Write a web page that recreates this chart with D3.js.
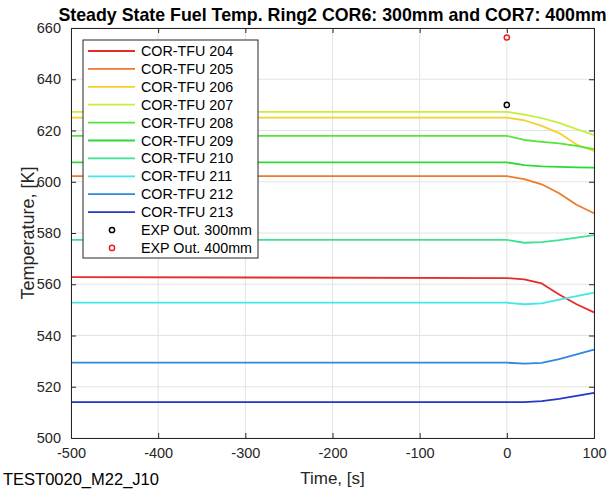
<!DOCTYPE html>
<html>
<head>
<meta charset="utf-8">
<script src="https://cdn.jsdelivr.net/npm/d3@7"></script>
<style>
  body { margin: 0; background: #fff; }
  text { font-family: "Liberation Sans", Arial, Helvetica, sans-serif; }
</style>
</head>
<body>
<main></main>
<script>
// time points (s)
const time = [-500, 0, 20, 40, 60, 80, 100];

// fuel temperatures (K) per channel
const tfu204 = [562.8, 562.4, 561.9, 560.3, 556.0, 552.2, 549.0];
const tfu205 = [602.2, 602.2, 601.0, 599.0, 595.5, 591.0, 587.7];
const tfu206 = [625.0, 625.0, 624.0, 621.8, 619.0, 614.5, 612.0];
const tfu207 = [627.3, 627.3, 626.2, 624.8, 623.0, 620.5, 618.2];
const tfu208 = [617.9, 617.9, 616.3, 615.6, 615.0, 614.0, 612.7];
const tfu209 = [607.6, 607.6, 606.5, 606.0, 605.8, 605.6, 605.5];
const tfu210 = [577.3, 577.3, 576.2, 576.4, 577.2, 578.2, 579.2];
const tfu211 = [552.8, 552.8, 552.2, 552.5, 554.0, 555.4, 556.7];
const tfu212 = [529.4, 529.4, 529.0, 529.3, 530.8, 532.6, 534.5];
const tfu213 = [514.0, 514.0, 514.0, 514.4, 515.3, 516.4, 517.6];

const seriesNames = ["COR-TFU 204", "COR-TFU 205", "COR-TFU 206", "COR-TFU 207", "COR-TFU 208",
                     "COR-TFU 209", "COR-TFU 210", "COR-TFU 211", "COR-TFU 212", "COR-TFU 213"];
const seriesValues = [tfu204, tfu205, tfu206, tfu207, tfu208, tfu209, tfu210, tfu211, tfu212, tfu213];
const seriesColors = ["#e62b2b", "#ee7a2a", "#f5d02e", "#c6f03e", "#55e43c",
                      "#2ed83a", "#3ee290", "#42e8e8", "#2e88e0", "#2636c6"];

// experimental points
const expNames = ["EXP Out. 300mm", "EXP Out. 400mm"];
const expTime = [0, 0];
const expTemp = [630.0, 656.3];
const expColors = ["#000000", "#e62020"];

const xTicks = [-500, -400, -300, -200, -100, 0, 100];
const yTicks = [500, 520, 540, 560, 580, 600, 620, 640, 660];

const W = 609, H = 490;
const margin = {left: 71, right: 15, top: 28, bottom: 52};
const axisColor = "#262626";

const svg = d3.select("main").append("svg")
    .attr("width", W).attr("height", H)
    .attr("viewBox", [0, 0, W, H]);

const x = d3.scaleLinear().domain([-500, 100]).range([margin.left, W - margin.right]);
const y = d3.scaleLinear().domain([500, 660]).range([H - margin.bottom, margin.top]);

// grid
const grid = svg.append("g").attr("stroke", "#e3e3e3").attr("stroke-width", 1);
grid.selectAll("line.gx").data(xTicks).join("line")
    .attr("x1", d => x(d)).attr("x2", d => x(d))
    .attr("y1", y(500)).attr("y2", y(660));
grid.selectAll("line.gy").data(yTicks).join("line")
    .attr("x1", x(-500)).attr("x2", x(100))
    .attr("y1", d => y(d)).attr("y2", d => y(d));

// series lines
const line = d3.line()
    .x((d, i) => x(time[i]))
    .y(d => y(d));

svg.append("g")
  .selectAll("path")
  .data(seriesValues)
  .join("path")
    .attr("fill", "none")
    .attr("stroke", (d, i) => seriesColors[i])
    .attr("stroke-width", 1.8)
    .attr("stroke-linejoin", "round")
    .attr("d", line);

// experimental markers
svg.append("g")
  .selectAll("circle")
  .data(expTemp)
  .join("circle")
    .attr("cx", (d, i) => x(expTime[i]))
    .attr("cy", d => y(d))
    .attr("r", 2.6)
    .attr("fill", "none")
    .attr("stroke", (d, i) => expColors[i])
    .attr("stroke-width", 1.5);

// axes (ticks inward, MATLAB-like box)
const tickLen = 5;
const plain = d => String(d);
const xAxis = svg.append("g")
    .attr("transform", `translate(0,${y(500)})`)
    .call(d3.axisBottom(x).tickValues(xTicks).tickSize(-tickLen).tickPadding(10).tickFormat(plain));
const xAxisTop = svg.append("g")
    .attr("transform", `translate(0,${y(660)})`)
    .call(d3.axisTop(x).tickValues(xTicks).tickSize(-tickLen).tickFormat(""));
const yAxis = svg.append("g")
    .attr("transform", `translate(${x(-500)},0)`)
    .call(d3.axisLeft(y).tickValues(yTicks).tickSize(-tickLen).tickPadding(10).tickFormat(plain));
const yAxisRight = svg.append("g")
    .attr("transform", `translate(${x(100)},0)`)
    .call(d3.axisRight(y).tickValues(yTicks).tickSize(-tickLen).tickFormat(""));

[xAxis, xAxisTop, yAxis, yAxisRight].forEach(a => {
  a.select(".domain").attr("stroke", axisColor).attr("stroke-width", 1);
  a.selectAll(".tick line").attr("stroke", axisColor);
  a.selectAll(".tick text")
    .attr("fill", axisColor)
    .style("font-size", "14.5px")
    .style("font-family", "'Liberation Sans', Arial, sans-serif");
});

// title and labels
svg.append("text")
    .attr("x", (x(-500) + x(100)) / 2)
    .attr("y", 21)
    .attr("text-anchor", "middle")
    .attr("font-weight", "bold")
    .attr("font-size", "17.8px")
    .attr("fill", "#000")
    .text("Steady State Fuel Temp. Ring2 COR6: 300mm and COR7: 400mm");

svg.append("text")
    .attr("x", (x(-500) + x(100)) / 2)
    .attr("y", 484)
    .attr("text-anchor", "middle")
    .attr("font-size", "17px")
    .attr("fill", axisColor)
    .text("Time, [s]");

svg.append("text")
    .attr("transform", `translate(34,${(y(500) + y(660)) / 2}) rotate(-90)`)
    .attr("text-anchor", "middle")
    .attr("font-size", "18px")
    .attr("fill", axisColor)
    .text("Temperature, [K]");

svg.append("text")
    .attr("x", 3)
    .attr("y", 485)
    .attr("font-size", "16.5px")
    .attr("fill", "#000")
    .text("TEST0020_M22_J10");

// legend
const legX = 83, legY = 40, legW = 175, legH = 218, rowH = 17.9;
const legend = svg.append("g");
legend.append("rect")
    .attr("x", legX).attr("y", legY)
    .attr("width", legW).attr("height", legH)
    .attr("fill", "#fff")
    .attr("stroke", axisColor)
    .attr("stroke-width", 1);

const legRows = legend.selectAll("g.row")
  .data(seriesNames)
  .join("g")
    .attr("transform", (d, i) => `translate(${legX},${legY + 11 + i * rowH})`);
legRows.append("line")
    .attr("x1", 5).attr("x2", 52)
    .attr("stroke", (d, i) => seriesColors[i])
    .attr("stroke-width", 1.8);
legRows.append("text")
    .attr("x", 58).attr("y", 5)
    .attr("font-size", "14.3px")
    .attr("fill", "#000")
    .text(d => d);

const expRows = legend.selectAll("g.exp")
  .data(expNames)
  .join("g")
    .attr("transform", (d, i) => `translate(${legX},${legY + 11 + (i + 10) * rowH})`);
expRows.append("circle")
    .attr("cx", 29).attr("r", 2.6)
    .attr("fill", "none")
    .attr("stroke", (d, i) => expColors[i])
    .attr("stroke-width", 1.5);
expRows.append("text")
    .attr("x", 58).attr("y", 5)
    .attr("font-size", "14.3px")
    .attr("fill", "#000")
    .text(d => d);
</script>
</body>
</html>
